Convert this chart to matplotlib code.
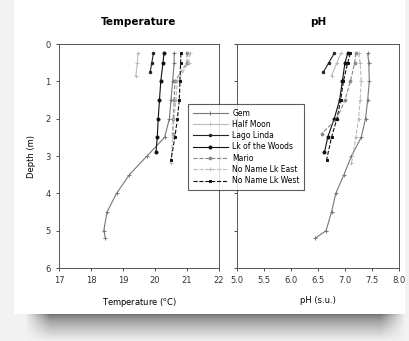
# 호수별 수온 / pH 수직 프로파일 그림

import numpy as np
import matplotlib
matplotlib.use("Agg")
import matplotlib.pyplot as plt

# ---- data ----
lakes = ["Gem", "Half Moon", "Lago Linda", "Lk of the Woods",
         "Mario", "No Name Lk East", "No Name Lk West"]

gem_depth = [0.25, 0.5, 1.0, 1.5, 2.0, 2.5, 3.0, 3.5, 4.0, 4.5, 5.0, 5.2]
gem_temp = [20.6, 20.6, 20.55, 20.5, 20.45, 20.3, 19.75, 19.2, 18.8, 18.5, 18.4, 18.45]
gem_ph = [7.42, 7.44, 7.45, 7.42, 7.38, 7.3, 7.12, 6.98, 6.83, 6.75, 6.65, 6.45]

halfmoon_depth = [0.25, 0.5, 0.85]
halfmoon_temp = [19.47, 19.45, 19.4]
halfmoon_ph = [6.92, 6.85, 6.75]

lagolinda_depth = [0.25, 0.5, 0.75]
lagolinda_temp = [19.95, 19.9, 19.85]
lagolinda_ph = [6.8, 6.7, 6.6]

woods_depth = [0.25, 0.5, 1.0, 1.5, 2.0, 2.5, 2.9]
woods_temp = [20.28, 20.25, 20.18, 20.14, 20.1, 20.07, 20.03]
woods_ph = [7.05, 7.0, 6.95, 6.9, 6.8, 6.68, 6.62]

mario_depth = [0.25, 0.5, 1.0, 1.5, 2.0, 2.4]
mario_temp = [21.0, 21.0, 20.62, 20.6, 20.57, 20.55]
mario_ph = [7.2, 7.18, 7.1, 7.0, 6.85, 6.57]

east_depth = [0.25, 0.5, 1.0, 1.5, 2.0, 2.5, 3.2]
east_temp = [21.09, 21.05, 20.7, 20.65, 20.6, 20.55, 20.5]
east_ph = [7.25, 7.28, 7.3, 7.28, 7.25, 7.2, 7.12]

west_depth = [0.25, 0.5, 1.0, 1.5, 2.0, 2.5, 3.1]
west_temp = [20.81, 20.8, 20.78, 20.76, 20.7, 20.62, 20.5]
west_ph = [7.1, 7.05, 6.97, 6.92, 6.85, 6.75, 6.66]

depths = [gem_depth, halfmoon_depth, lagolinda_depth, woods_depth,
          mario_depth, east_depth, west_depth]
temps = [gem_temp, halfmoon_temp, lagolinda_temp, woods_temp,
         mario_temp, east_temp, west_temp]
phs = [gem_ph, halfmoon_ph, lagolinda_ph, woods_ph,
       mario_ph, east_ph, west_ph]

# ---- styles ----
styles = [
    dict(color="#777777", ls="-", marker="+", ms=3.5),
    dict(color="#bbbbbb", ls="-", marker="+", ms=3.0),
    dict(color="#222222", ls="-", marker="o", ms=1.8),
    dict(color="#111111", ls="-", marker="o", ms=2.2),
    dict(color="#888888", ls="--", marker="o", ms=2.0),
    dict(color="#bbbbbb", ls="--", marker="+", ms=3.0),
    dict(color="#111111", ls="--", marker="s", ms=2.0),
]

fig = plt.figure(figsize=(4.09, 3.41), dpi=100)
W, H = 409, 341

# background card with shadow
bg = fig.add_axes([0, 0, 1, 1], zorder=-5)
img = np.full((H, W, 3), 0.95)
img[:314, 14:405] = 1.0
xs = np.arange(W)
fade = np.clip(np.minimum(xs - 25, 405 - xs) / 25.0, 0, 1)
for y in range(314, H):
    g = 0.45 + 0.5 * ((y - 314) / (H - 314)) ** 0.7
    img[y, :, :] = (0.95 - (0.95 - g) * fade)[:, None]
bg.imshow(img, extent=[0, W, H, 0], aspect="auto", interpolation="bilinear")
bg.axis("off")

ax1 = fig.add_axes([59 / W, 1 - 268 / H, 160 / W, 224 / H])
ax2 = fig.add_axes([237 / W, 1 - 268 / H, 162 / W, 224 / H])

lines = []
for d, t, p, st, name in zip(depths, temps, phs, styles, lakes):
    ln, = ax1.plot(t, d, lw=0.8, mew=0.7, label=name, **st)
    ax2.plot(p, d, lw=0.8, mew=0.7, **st)
    lines.append(ln)

ax1.set_xlim(17, 22)
ax1.set_xticks([17, 18, 19, 20, 21, 22])
ax2.set_xlim(5.0, 8.0)
ax2.set_xticks([5.0, 5.5, 6.0, 6.5, 7.0, 7.5, 8.0])
ax2.set_xticklabels(["5.0", "5.5", "6.0", "6.5", "7.0", "7.5", "8.0"])

for ax in (ax1, ax2):
    ax.set_ylim(6, 0)
    ax.set_yticks(range(7))
    ax.tick_params(labelsize=6, length=2, width=0.6, colors="#333333", pad=4)
    for s in ax.spines.values():
        s.set_linewidth(0.7)
        s.set_color("#555555")
ax2.tick_params(labelleft=False)

ax1.set_title("Temperature", fontsize=7.5, fontweight="bold", pad=14)
ax2.set_title("pH", fontsize=7.5, fontweight="bold", pad=14)
ax1.set_xlabel("Temperature ($^{\\mathrm{o}}$C)", fontsize=6, labelpad=8)
ax2.set_xlabel("pH (s.u.)", fontsize=6, labelpad=8)
ax1.set_ylabel("Depth (m)", fontsize=6, labelpad=7)

leg = fig.legend(handles=lines, loc="upper left",
                 bbox_to_anchor=(188 / W, 1 - 104 / H),
                 fontsize=5.5, frameon=True, fancybox=False,
                 handlelength=4.6, labelspacing=0.3, borderpad=0.6,
                 handletextpad=0.6, borderaxespad=0)
leg.get_frame().set_edgecolor("#333333")
leg.get_frame().set_linewidth(0.8)

fig.savefig("out.png", dpi=100)
